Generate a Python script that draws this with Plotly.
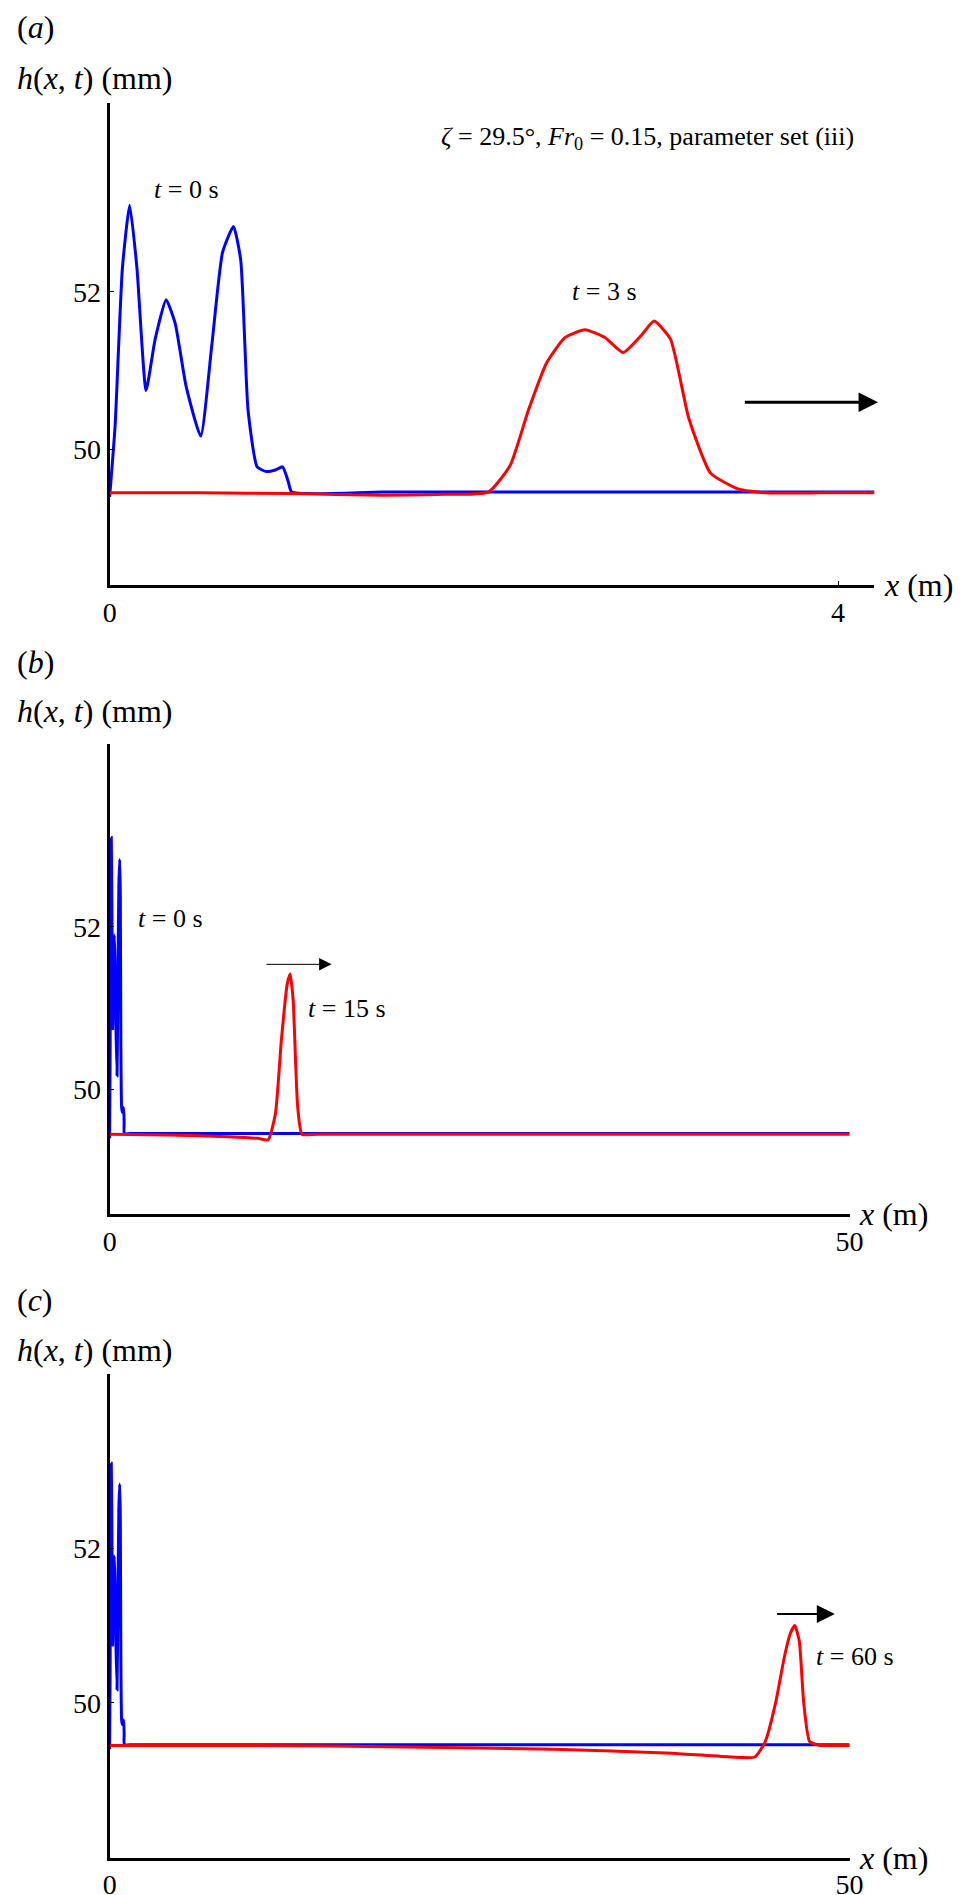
import plotly.graph_objects as go

# initial profile t = 0 s (x in m, h in mm)
x0 = [0.0, 0.03, 0.07, 0.11, 0.15, 0.2, 0.25, 0.31, 0.36, 0.42, 0.5, 0.56, 0.62, 0.68, 0.72, 0.76, 0.81, 0.86, 0.91, 0.95, 0.98, 1.0, 1.5, 2.5, 3.5, 4.2]
h0 = [49.4, 50.3, 52.3, 53.1, 52.3, 50.75, 51.4, 51.9, 51.6, 50.8, 50.17, 51.3, 52.5, 52.83, 52.4, 50.5, 49.78, 49.72, 49.74, 49.78, 49.6, 49.46, 49.46, 49.46, 49.46, 49.46]
x0_far = [10.0, 20.0, 30.0, 40.0, 50.0]
h0_far = [49.46, 49.46, 49.46, 49.46, 49.46]

# panel a, t = 3 s
x3 = [0.0, 0.5, 1.0, 1.5, 1.8, 2.08, 2.2, 2.3, 2.4, 2.5, 2.61, 2.72, 2.82, 2.92, 2.99, 3.08, 3.18, 3.3, 3.45, 3.6, 3.9, 4.2]
h3 = [49.45, 49.45, 49.44, 49.42, 49.43, 49.46, 49.8, 50.5, 51.1, 51.42, 51.52, 51.42, 51.23, 51.45, 51.63, 51.4, 50.4, 49.7, 49.5, 49.45, 49.45, 49.45]

# panel b, t = 15 s
x15 = [0.0, 4.0, 8.0, 10.0, 10.7, 11.2, 11.6, 12.0, 12.2, 12.4, 12.7, 13.0, 14.0, 20.0, 30.0, 40.0, 50.0]
h15 = [49.45, 49.44, 49.42, 49.4, 49.38, 49.7, 50.6, 51.3, 51.42, 51.1, 49.8, 49.45, 49.45, 49.45, 49.45, 49.45, 49.45]

# panel c, t = 60 s
x60 = [0.0, 10.0, 20.0, 30.0, 38.0, 42.0, 43.6, 44.3, 45.0, 45.6, 46.0, 46.3, 46.6, 46.9, 47.3, 48.0, 49.0, 50.0]
h60 = [49.45, 49.45, 49.43, 49.4, 49.35, 49.3, 49.3, 49.5, 50.0, 50.6, 50.9, 51.0, 50.8, 50.0, 49.5, 49.45, 49.45, 49.45]

ser = "Liberation Serif"
fig = go.Figure()

panels = [
    ("", [0.6955, 0.950], [48.28, 54.4], [0, 4.2], 0.899, x3, h3, 4, 0.990, 0.963, False),
    ("2", [0.3636, 0.6116], [48.47, 54.25], [0, 50], 0.873, x15, h15, 50, 0.655, 0.629, True),
    ("3", [0.024, 0.279], [48.0, 54.25], [0, 50], 0.873, x60, h60, 50, 0.318, 0.292, True),
]
for i, (s, dom, yr, xr, right, xr_, hr_, xmax, ylab, yh, far) in enumerate(panels):
    xa, ya = "x" + s, "y" + s
    bx = x0 + x0_far if far else x0
    bh = h0 + h0_far if far else h0
    fig.add_trace(go.Scatter(x=bx, y=bh, mode="lines", line=dict(color="#0000ff", width=3, shape="spline", smoothing=0.5),
                             xaxis=xa, yaxis=ya, showlegend=False))
    fig.add_trace(go.Scatter(x=xr_, y=hr_, mode="lines", line=dict(color="#ff0000", width=3, shape="spline", smoothing=0.5),
                             xaxis=xa, yaxis=ya, showlegend=False))
    ax = dict(domain=[0.099, right], range=xr, showgrid=False, zeroline=False, showline=True, linecolor="black",
              linewidth=3, ticks="inside", ticklen=4, tickcolor="black", tickvals=[0, xmax],
              tickfont=dict(family=ser, size=28, color="black"), anchor=ya)
    ay = dict(domain=dom, range=yr, showgrid=False, zeroline=False, showline=True, linecolor="black",
              linewidth=3, ticks="inside", ticklen=4, tickcolor="black", tickvals=[50, 52],
              tickfont=dict(family=ser, size=28, color="black"), anchor=xa)
    fig.update_layout(**{"xaxis" + s: ax, "yaxis" + s: ay})
    lab = ["(<i>a</i>)", "(<i>b</i>)", "(<i>c</i>)"][i]
    fig.add_annotation(text=lab, xref="paper", yref="paper", x=0.0, y=ylab, xanchor="left", yanchor="middle",
                       showarrow=False, font=dict(family=ser, size=32, color="black"))
    fig.add_annotation(text="<i>h</i>(<i>x</i>, <i>t</i>) (mm)", xref="paper", yref="paper", x=0.0, y=yh,
                       xanchor="left", yanchor="middle", showarrow=False, font=dict(family=ser, size=32, color="black"))
    fig.add_annotation(text="<i>x</i> (m)", xref="paper", yref="paper", x=right + 0.008, y=dom[0],
                       xanchor="left", yanchor="middle", showarrow=False, font=dict(family=ser, size=32, color="black"))

tf = dict(family=ser, size=26, color="black")
fig.add_annotation(text="<i>ζ</i> = 29.5°, <i>Fr</i><sub>0</sub> = 0.15, parameter set (iii)", x=4.1, y=53.95,
                   xref="x", yref="y", xanchor="right", showarrow=False, font=tf)
fig.add_annotation(text="<i>t</i> = 0 s", x=0.42, y=53.3, xref="x", yref="y", showarrow=False, font=tf)
fig.add_annotation(text="<i>t</i> = 3 s", x=2.72, y=52.0, xref="x", yref="y", showarrow=False, font=tf)
fig.add_annotation(text="<i>t</i> = 0 s", x=1.8, y=52.1, xref="x2", yref="y2", xanchor="left", showarrow=False, font=tf)
fig.add_annotation(text="<i>t</i> = 15 s", x=13.3, y=51.0, xref="x2", yref="y2", xanchor="left", showarrow=False, font=tf)
fig.add_annotation(text="<i>t</i> = 60 s", x=47.6, y=50.6, xref="x3", yref="y3", xanchor="left", showarrow=False, font=tf)

# arrows
for xa, ya, xs, xe, yv, w, hs in [("x", "y", 3.48, 4.22, 50.6, 3, 1.3), ("x2", "y2", 10.5, 15.0, 51.54, 1, 2.5),
                                  ("x3", "y3", 45.0, 49.0, 51.15, 2, 1.8)]:
    fig.add_annotation(x=xe, y=yv, ax=xs, ay=yv, xref=xa, yref=ya, axref=xa, ayref=ya, text="",
                       showarrow=True, arrowhead=2, arrowsize=hs, arrowwidth=w, arrowcolor="black")

fig.update_layout(width=977, height=1895, margin=dict(l=0, r=0, t=0, b=0),
                  paper_bgcolor="white", plot_bgcolor="white")
fig.write_html("out.html")
